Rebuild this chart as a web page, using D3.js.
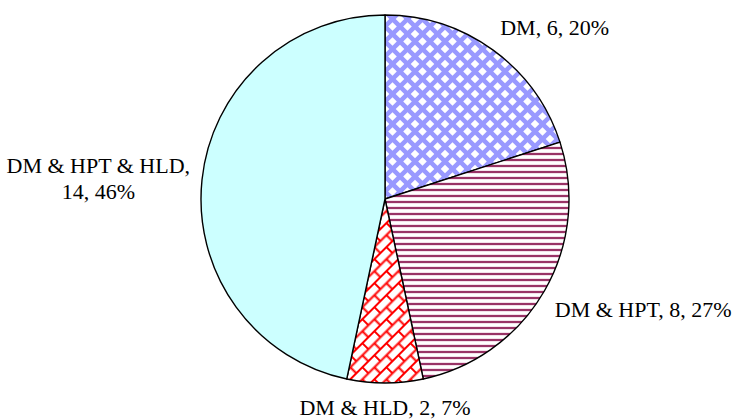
<!DOCTYPE html>
<html>
<head>
<meta charset="utf-8">
<script src="https://cdn.jsdelivr.net/npm/d3@7/dist/d3.min.js"></script>
<style>
  body { margin: 0; background: #fff; }
</style>
</head>
<body>
<svg id="chart" width="733" height="419"></svg>
<script>
// chart data
const categories = ["DM", "DM & HPT", "DM & HLD", "DM & HPT & HLD"];
const counts = [6, 8, 2, 14];
const percents = ["20%", "27%", "7%", "46%"];
const fills = ["url(#p-diamond)", "url(#p-hstripe)", "url(#p-brick)", "#CCFFFF"];

const width = 733, height = 419;
const cx = 385, cy = 199, radius = 184;
const FONT = "'Liberation Serif', 'Times New Roman', Times, 'DejaVu Serif', serif";

const svg = d3.select("#chart");
const defs = svg.append("defs");

// white diamonds on blue
const T = 15, h = 4.3;
function diamond(x, y) {
    return `M${x},${y - h}L${x + h},${y}L${x},${y + h}L${x - h},${y}Z`;
}
const pd = defs.append("pattern").attr("id", "p-diamond")
    .attr("patternUnits", "userSpaceOnUse").attr("width", T).attr("height", T);
pd.append("rect").attr("width", T).attr("height", T).attr("fill", "#9999FF");
pd.append("path").attr("fill", "#fff")
    .attr("d", [diamond(T / 2, T / 2), diamond(0, 0), diamond(T, 0), diamond(0, T), diamond(T, T)].join(" "));

// horizontal stripes
const ph = defs.append("pattern").attr("id", "p-hstripe")
    .attr("patternUnits", "userSpaceOnUse").attr("width", 6).attr("height", 6);
ph.append("rect").attr("width", 6).attr("height", 6).attr("fill", "#fff");
ph.append("rect").attr("y", 1.5).attr("width", 6).attr("height", 3).attr("fill", "#E8C4D6");
ph.append("rect").attr("y", 2).attr("width", 6).attr("height", 2).attr("fill", "#993366");

// diagonal brick
const pb = defs.append("pattern").attr("id", "p-brick")
    .attr("patternUnits", "userSpaceOnUse").attr("width", 17).attr("height", 17)
    .attr("patternTransform", "rotate(-45)");
pb.append("rect").attr("width", 17).attr("height", 17).attr("fill", "#fff");
pb.append("path").attr("stroke", "#FF0000").attr("stroke-width", 2).attr("fill", "none")
    .attr("d", "M0,1H17 M0,9.5H17 M1,0V9.5 M9.5,9.5V17");

const pie = d3.pie().sort(null).value(d => d);
const arcs = pie(counts);
const arc = d3.arc().innerRadius(0).outerRadius(radius);

const g = svg.append("g").attr("transform", `translate(${cx},${cy})`);

g.selectAll("path.slice").data(arcs).enter().append("path")
    .attr("class", "slice")
    .attr("d", arc)
    .attr("fill", (d, i) => fills[i])
    .attr("stroke", "#000")
    .attr("stroke-width", 1.4)
    .attr("stroke-linejoin", "round");

// labels placed just outside each slice
const labelR = radius + 12;
arcs.forEach(function (d, i) {
    const mid = (d.startAngle + d.endAngle) / 2;
    const s = Math.sin(mid), c = Math.cos(mid);
    const px = labelR * s, py = -labelR * c;
    let lines = [categories[i] + ", " + counts[i] + ", " + percents[i]];
    if (categories[i].length > 10) lines = [categories[i] + ",", counts[i] + ", " + percents[i]];

    const lg = g.append("g");
    lines.forEach(function (t, k) {
        lg.append("text").attr("x", 0).attr("y", k * 26)
            .attr("text-anchor", "middle")
            .attr("font-family", FONT)
            .attr("font-size", 22)
            .attr("fill", "#000")
            .text(t);
    });
    const bb = lg.node().getBBox();
    const ax = s > 0.3 ? 0 : (s < -0.3 ? 1 : 0.5);
    const ay = c > 0.3 ? 1 : (c < -0.3 ? 0 : 0.5);
    const tx = px - bb.x - ax * bb.width;
    const ty = py - bb.y - ay * bb.height;
    lg.attr("transform", `translate(${tx},${ty})`);
});
</script>
</body>
</html>
